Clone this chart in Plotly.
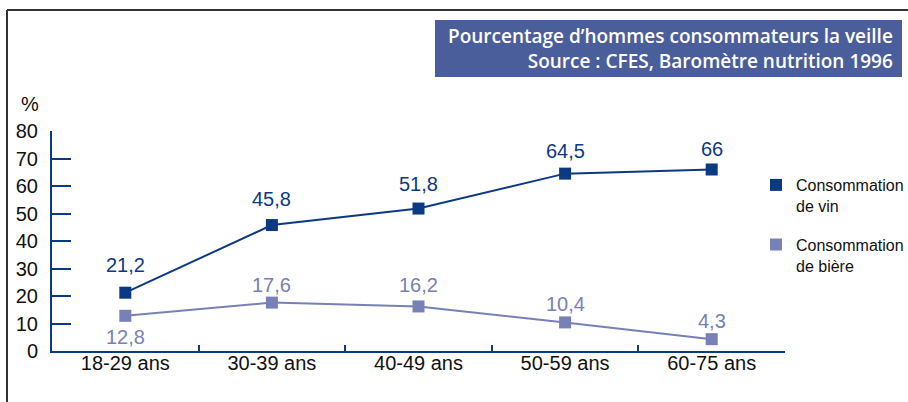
import plotly.graph_objects as go

# data
categories = ["18-29 ans", "30-39 ans", "40-49 ans", "50-59 ans", "60-75 ans"]
vin = [21.2, 45.8, 51.8, 64.5, 66]
biere = [12.8, 17.6, 16.2, 10.4, 4.3]
vin_labels = ["21,2", "45,8", "51,8", "64,5", "66"]
biere_labels = ["12,8", "17,6", "16,2", "10,4", "4,3"]

# label offsets (px above the marker, negative = below)
vin_shift = [28, 26, 25, 23, 21]
biere_shift = [-21, 18, 21, 18, 18]

NAVY = "#0b3a83"
LIGHT = "#7880b8"
BOX = "#4b5e9c"
FONT = "Liberation Sans, Arial"

# plot area in pixels: x 52..785, y 131..351
L, R, T, B = 52, 785, 131, 351
W, H = 908, 402


def px(x):
    return (x - L) / (R - L)


def py(y):
    return (B - y) / (B - T)


fig = go.Figure()

fig.add_trace(go.Scatter(
    x=categories, y=vin, mode="lines+markers",
    line=dict(color=NAVY, width=2),
    marker=dict(symbol="square", size=12, color=NAVY),
    showlegend=False, cliponaxis=False,
))
fig.add_trace(go.Scatter(
    x=categories, y=biere, mode="lines+markers",
    line=dict(color=LIGHT, width=2),
    marker=dict(symbol="square", size=12, color=LIGHT),
    showlegend=False, cliponaxis=False,
))

# legend entries
fig.add_trace(go.Scatter(
    x=[None], y=[None], mode="markers", name="Consommation<br>de vin",
    legendgroup="vin",
    marker=dict(symbol="square", size=12, color=NAVY),
))
fig.add_trace(go.Scatter(
    x=[None], y=[None], mode="markers", name="Consommation<br>de bière",
    legendgroup="biere",
    marker=dict(symbol="square", size=12, color=LIGHT),
))

shapes = [
    # outer frame
    dict(type="line", xref="paper", yref="paper",
         x0=px(7), x1=px(W + 5), y0=py(10), y1=py(10),
         line=dict(color="#333333", width=2)),
    dict(type="line", xref="paper", yref="paper",
         x0=px(7), x1=px(7), y0=py(10), y1=py(H + 5),
         line=dict(color="#333333", width=2)),
    # title box
    dict(type="rect", xref="paper", yref="paper",
         x0=px(435), x1=px(902), y0=py(20), y1=py(77),
         fillcolor=BOX, line=dict(width=0), layer="below"),
]

annotations = [
    dict(xref="paper", yref="paper", x=px(895), y=py(48.5),
         xanchor="right", yanchor="middle", align="right", showarrow=False,
         text="Pourcentage d’hommes consommateurs la veille<br>Source : CFES, Baromètre nutrition 1996",
         font=dict(size=19, color="white", family="Open Sans", weight=600)),
    dict(xref="paper", yref="paper", x=px(19), y=py(104),
         xanchor="left", yanchor="middle", showarrow=False, text="%",
         font=dict(size=20, color="#111111", family=FONT)),
]

# value labels
for c, v, t, s in zip(categories, vin, vin_labels, vin_shift):
    annotations.append(dict(
        x=c, y=v, text=t, showarrow=False, yanchor="middle", yshift=s,
        font=dict(size=20, color=NAVY, family=FONT)))
for c, v, t, s in zip(categories, biere, biere_labels, biere_shift):
    annotations.append(dict(
        x=c, y=v, text=t, showarrow=False, yanchor="middle", yshift=s,
        font=dict(size=20, color=LIGHT, family=FONT)))

fig.update_layout(
    width=W, height=H,
    margin=dict(l=L, r=W - R, t=T, b=H - B, pad=0, autoexpand=False),
    plot_bgcolor="white", paper_bgcolor="white",
    font=dict(family=FONT, color="#111111"),
    shapes=shapes, annotations=annotations,
    legend=dict(x=px(756), y=py(168), xanchor="left", yanchor="top",
                valign="top", font=dict(size=16, color="#111111"),
                tracegroupgap=15, itemwidth=30, bgcolor="rgba(0,0,0,0)"),
)
fig.update_xaxes(
    showgrid=False, showline=True, linecolor=NAVY, linewidth=2,
    ticks="inside", tickson="boundaries", ticklen=6, tickwidth=2, tickcolor=NAVY,
    tickfont=dict(size=20, color="#111111"), range=[-0.5, 4.5],
    ticklabelstandoff=-7,
)
fig.update_yaxes(
    showgrid=False, showline=True, linecolor=NAVY, linewidth=2,
    ticks="inside", ticklen=19, tickwidth=2, tickcolor=NAVY,
    tickfont=dict(size=20, color="#111111"), range=[0, 80], dtick=10,
    zeroline=False, ticklabelstandoff=8,
)

# the page's default body margin would shift the figure by 8px
fig.write_html("out.html", config={"displayModeBar": False},
               post_script="document.body.style.margin = '0';")
